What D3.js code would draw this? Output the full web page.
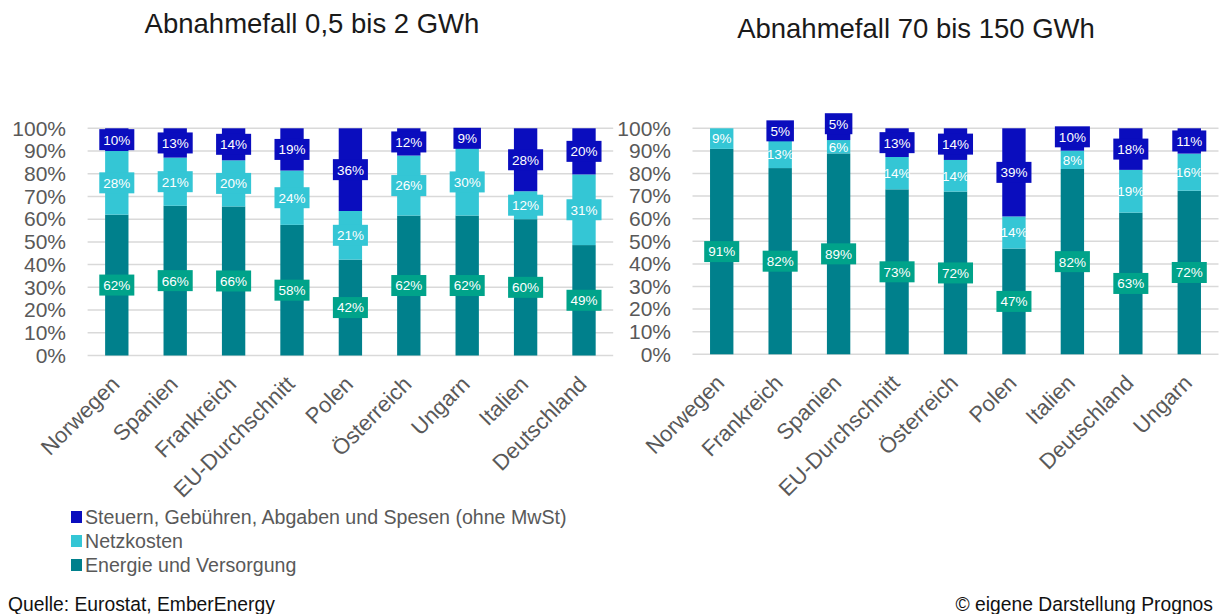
<!DOCTYPE html>
<html><head><meta charset="utf-8">
<script src="https://cdn.jsdelivr.net/npm/d3@7"></script>
<style>
html,body{margin:0;padding:0;background:#fff;}
svg{display:block;font-family:"Liberation Sans",Arial,sans-serif;}
</style></head>
<body>
<svg id="chart" width="1231" height="614"></svg>
<script>
// ---- Data ----
const seriesNames = ["Energie und Versorgung", "Netzkosten", "Steuern, Gebühren, Abgaben und Spesen (ohne MwSt)"];
const seriesKeys = ["energie", "netz", "steuern"];

const title1 = "Abnahmefall 0,5 bis 2 GWh";
const countries1 = ["Norwegen", "Spanien", "Frankreich", "EU-Durchschnitt", "Polen", "Österreich", "Ungarn", "Italien", "Deutschland"];
const energie1 = [62.0, 65.9, 65.6, 57.5, 42.2, 61.6, 61.6, 60.0, 48.6];
const netz1    = [28.0, 21.2, 20.3, 23.9, 21.4, 26.4, 29.6, 12.3, 31.1];
const steuern1 = [10.0, 12.9, 14.1, 18.6, 36.4, 12.0,  8.8, 27.7, 20.3];

const title2 = "Abnahmefall 70 bis 150 GWh";
const countries2 = ["Norwegen", "Frankreich", "Spanien", "EU-Durchschnitt", "Österreich", "Polen", "Italien", "Deutschland", "Ungarn"];
const energie2 = [90.9, 82.4, 88.9, 73.0, 72.0, 46.8, 82.0, 62.7, 72.4];
const netz2    = [ 9.1, 12.6,  5.9, 14.3, 14.0, 14.2,  8.1, 18.9, 16.4];
const steuern2 = [ 0.0,  5.0,  5.2, 12.7, 14.0, 39.0,  9.9, 18.4, 11.2];

const yTicks = [0, 10, 20, 30, 40, 50, 60, 70, 80, 90, 100];

const sourceLeft = "Quelle: Eurostat, EmberEnergy";
const sourceRight = "© eigene Darstellung Prognos";

// ---- Styles ----
const barColors = {energie: "#00808C", netz: "#34C6D5", steuern: "#0A0DBE"};
const boxColors = {energie: "#00A38A", netz: "#34C6D5", steuern: "#0A0DBE"};
const grey = "#595959";

const svg = d3.select("#chart");

function panel(cfg) {
  const {countries, energie, netz, steuern, title, x0, x1, yBottom, yTop, tickX, titleX, titleY, netzBox} = cfg;
  const rows = countries.map((c, i) => ({country: c, energie: energie[i], netz: netz[i], steuern: steuern[i]}));
  const x = d3.scaleBand().domain(countries).range([x0, x1]).paddingInner(0.6).paddingOuter(0.3);
  const y = d3.scaleLinear().domain([0, 100]).range([yBottom, yTop]);
  const g = svg.append("g");

  // title
  g.append("text").attr("x", titleX).attr("y", titleY).attr("text-anchor", "middle")
    .attr("font-size", 27.5).attr("fill", "#1a1a1a").text(title);

  // grid
  g.append("g").selectAll("line").data(yTicks).join("line")
    .attr("x1", x0).attr("x2", x1).attr("y1", d => y(d)).attr("y2", d => y(d))
    .attr("stroke", "#d9d9d9").attr("stroke-width", 1.5);

  // y axis labels
  const yAxis = d3.axisLeft(y).tickValues(yTicks).tickFormat(d => d + "%").tickSize(0).tickPadding(0);
  const ya = g.append("g").attr("transform", `translate(${tickX},0)`).call(yAxis);
  ya.select(".domain").remove();
  ya.selectAll("text").attr("font-size", 21).attr("fill", grey).attr("font-family", "Liberation Sans, Arial, sans-serif");

  // stacks
  const stack = d3.stack().keys(seriesKeys);
  const layers = stack(rows);
  layers.forEach(layer => {
    g.append("g").selectAll("rect").data(layer.filter(d => d[1] - d[0] > 0)).join("rect")
      .attr("x", d => x(d.data.country)).attr("width", x.bandwidth())
      .attr("y", d => y(d[1])).attr("height", d => y(d[0]) - y(d[1]))
      .attr("fill", barColors[layer.key]);
  });

  // labels with simple collision avoidance
  const minSep = 23;
  rows.forEach((r, i) => {
    const cx = x(r.country) + x.bandwidth() / 2;
    let prevY = null;
    layers.forEach(layer => {
      const d = layer[i];
      const v = d[1] - d[0];
      if (v <= 0) return;
      let cy = y((d[0] + d[1]) / 2);
      if (prevY !== null && prevY - cy < minSep) cy = prevY - minSep;
      prevY = cy;
      const label = Math.round(v) + "%";
      const lg = g.append("g").attr("transform", `translate(${cx},${cy})`);
      const t = lg.append("text").attr("text-anchor", "middle").attr("dy", "0.36em")
        .attr("font-size", 13.5).attr("fill", "#fff").text(label);
      const showBox = layer.key !== "netz" || netzBox;
      if (showBox) {
        const w = t.node().getComputedTextLength() + 8;
        lg.insert("rect", "text").attr("x", -w / 2).attr("y", -10.5).attr("width", w).attr("height", 21)
          .attr("fill", boxColors[layer.key]);
      }
    });
  });

  // x labels
  g.append("g").selectAll("text").data(countries).join("text")
    .attr("transform", d => `translate(${x(d) + x.bandwidth() / 2 + 4},${yBottom + 30}) rotate(-45)`)
    .attr("text-anchor", "end").attr("font-size", 22).attr("fill", grey).text(d => d);
}

panel({countries: countries1, energie: energie1, netz: netz1, steuern: steuern1, title: title1,
  x0: 87.6, x1: 613.2, yBottom: 355.5, yTop: 128.3, tickX: 66, titleX: 312, titleY: 33, netzBox: true});
panel({countries: countries2, energie: energie2, netz: netz2, steuern: steuern2, title: title2,
  x0: 692.5, x1: 1218.5, yBottom: 354.3, yTop: 128.3, tickX: 671, titleX: 916, titleY: 38, netzBox: false});

// legend
const legendOrder = [2, 1, 0];
const lg = svg.append("g");
legendOrder.forEach((si, j) => {
  const yy = 517 + j * 24;
  lg.append("rect").attr("x", 71).attr("y", yy - 6).attr("width", 11).attr("height", 12).attr("fill", barColors[seriesKeys[si]]);
  lg.append("text").attr("x", 85).attr("y", yy).attr("dy", "0.35em").attr("font-size", 19.6).attr("fill", grey).text(seriesNames[si]);
});

// sources
svg.append("text").attr("x", 8).attr("y", 611).attr("font-size", 19.3).attr("fill", "#111").text(sourceLeft);
svg.append("text").attr("x", 1213).attr("y", 611).attr("text-anchor", "end").attr("font-size", 19.3).attr("fill", "#111").text(sourceRight);
</script>
</body></html>
